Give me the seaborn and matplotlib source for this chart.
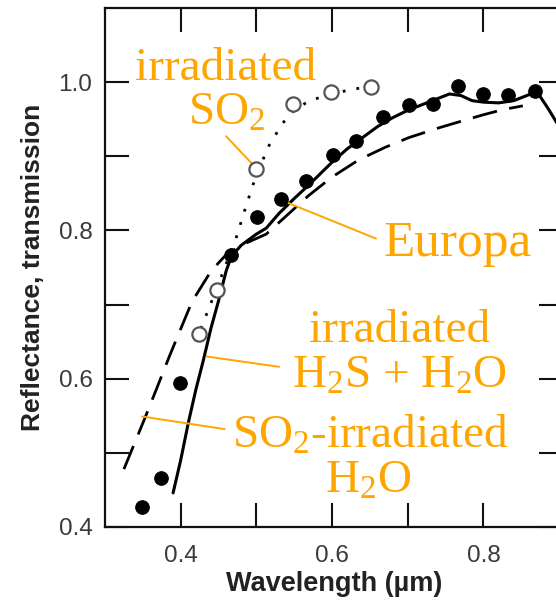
import numpy as np
import matplotlib
matplotlib.use("Agg")
import matplotlib.pyplot as plt
import seaborn as sns

# Europa reflectance (filled circles)
europa_wl = [0.349, 0.374, 0.399, 0.467, 0.501, 0.533, 0.566, 0.601, 0.632,
             0.667, 0.701, 0.733, 0.766, 0.800, 0.833, 0.868]
europa_refl = [0.427, 0.466, 0.594, 0.767, 0.818, 0.842, 0.866, 0.902, 0.921,
               0.953, 0.969, 0.970, 0.995, 0.984, 0.983, 0.988]

# irradiated SO2 (open circles + dotted curve)
so2_wl = [0.424, 0.448, 0.500, 0.548, 0.598, 0.651]
so2_refl = [0.660, 0.719, 0.883, 0.971, 0.987, 0.994]
so2_curve_wl = [0.420, 0.445, 0.473, 0.487, 0.500, 0.517, 0.535, 0.550, 0.570,
                0.600, 0.625, 0.650]
so2_curve_refl = [0.650, 0.715, 0.789, 0.835, 0.875, 0.915, 0.945, 0.962, 0.975,
                  0.984, 0.990, 0.994]

# irradiated H2S + H2O (solid)
h2s_wl = [0.390, 0.400, 0.410, 0.420, 0.430, 0.440, 0.450, 0.460, 0.467, 0.480,
          0.500, 0.513, 0.530, 0.550, 0.570, 0.600, 0.620, 0.640, 0.660, 0.680,
          0.700, 0.720, 0.740, 0.755, 0.770, 0.785, 0.800, 0.820, 0.840, 0.860,
          0.872, 0.885, 0.900]
h2s_refl = [0.446, 0.490, 0.540, 0.585, 0.625, 0.668, 0.705, 0.745, 0.765, 0.780,
            0.795, 0.803, 0.823, 0.843, 0.862, 0.892, 0.910, 0.925, 0.940, 0.952,
            0.962, 0.970, 0.978, 0.984, 0.982, 0.975, 0.973, 0.972, 0.975, 0.983,
            0.985, 0.965, 0.940]

# SO2-irradiated H2O (dashed)
h2o_wl = [0.325, 0.352, 0.368, 0.385, 0.415, 0.440, 0.458, 0.480, 0.513, 0.540,
          0.569, 0.600, 0.635, 0.670, 0.701, 0.740, 0.773, 0.800, 0.826, 0.852]
h2o_refl = [0.478, 0.545, 0.586, 0.630, 0.704, 0.745, 0.765, 0.780, 0.795, 0.820,
            0.847, 0.872, 0.895, 0.912, 0.925, 0.938, 0.948, 0.956, 0.963, 0.968]

sns.set_style("ticks")
plt.rcParams["font.family"] = ["Liberation Sans", "DejaVu Sans"]
plt.rcParams["mathtext.fontset"] = "custom"
plt.rcParams["mathtext.rm"] = "Liberation Serif"
plt.rcParams["mathtext.it"] = "Liberation Serif:italic"

fig = plt.figure(figsize=(5.56, 6.0), dpi=100)
ax = fig.add_axes([0.1888, 0.1217, 0.8237, 0.865])

sns.lineplot(x=h2o_wl, y=h2o_refl, ax=ax, color="black", linewidth=2.0,
             linestyle=(0, (9, 4.5)), sort=False)
sns.lineplot(x=h2s_wl, y=h2s_refl, ax=ax, color="black", linewidth=2.2, sort=False)
sns.lineplot(x=so2_curve_wl, y=so2_curve_refl, ax=ax, color="black", linewidth=2.0,
             linestyle=(0, (1, 4)), sort=False)
sns.scatterplot(x=so2_wl, y=so2_refl, ax=ax, s=105, facecolor="white",
                edgecolor="#555555", linewidth=1.6, zorder=4)
sns.scatterplot(x=europa_wl, y=europa_refl, ax=ax, s=95, color="black",
                edgecolor="black", zorder=5)

ax.set_xlim(0.3, 0.905)
ax.set_ylim(0.4, 1.1)
ax.set_xticks([0.4, 0.6, 0.8])
ax.set_xticks([0.5, 0.7], minor=True)
ax.set_yticks([0.4, 0.6, 0.8, 1.0])
ax.set_yticks([0.5, 0.7, 0.9], minor=True)
ax.set_xticklabels(["0.4", "0.6", "0.8"])
ax.set_yticklabels(["0.4", "0.6", "0.8", "1.0"])
ax.tick_params(which="both", direction="in", length=17, width=1.5,
               top=True, right=True, colors="#111111", labelcolor="#3a3a3a",
               labelsize=17.5)
ax.tick_params(axis="x", which="both", pad=13)
ax.tick_params(axis="y", which="both", pad=9)
for sp in ax.spines.values():
    sp.set_linewidth(1.6)
    sp.set_color("#111111")

ax.set_xlabel("Wavelength (µm)", fontsize=19.5, fontweight="bold", color="#222222",
              labelpad=3)
ax.set_ylabel("Reflectance, transmission", fontsize=19, fontweight="bold",
              color="#222222", labelpad=10)

orange = "#FFA500"
tkw = dict(color=orange, fontsize=34, family="Liberation Serif", ha="center",
           va="baseline")
lkw = dict(arrowstyle="-", color=orange, lw=1.4, shrinkA=0, shrinkB=0)

ax.text(0.459, 1.003, "irradiated", **tkw)
ax.text(0.461, 0.942, r"$\mathregular{SO_2}$", **tkw)
ax.annotate("", xy=(0.497, 0.887), xytext=(0.460, 0.927), arrowprops=lkw)

ax.text(0.766, 0.766, "Europa", **{**tkw, "fontsize": 37})
ax.annotate("", xy=(0.542, 0.837), xytext=(0.658, 0.789), arrowprops=lkw)

ax.text(0.689, 0.649, "irradiated", **tkw)
ax.text(0.689, 0.588, r"$\mathregular{H_2S}$ + $\mathregular{H_2O}$", **tkw)
ax.annotate("", xy=(0.434, 0.630), xytext=(0.530, 0.616), arrowprops=lkw)

ax.text(0.650, 0.507, r"$\mathregular{SO_2}$-irradiated", **tkw)
ax.text(0.648, 0.446, r"$\mathregular{H_2O}$", **tkw)
ax.annotate("", xy=(0.349, 0.549), xytext=(0.458, 0.532), arrowprops=lkw)

fig.savefig("out.png", dpi=100)
